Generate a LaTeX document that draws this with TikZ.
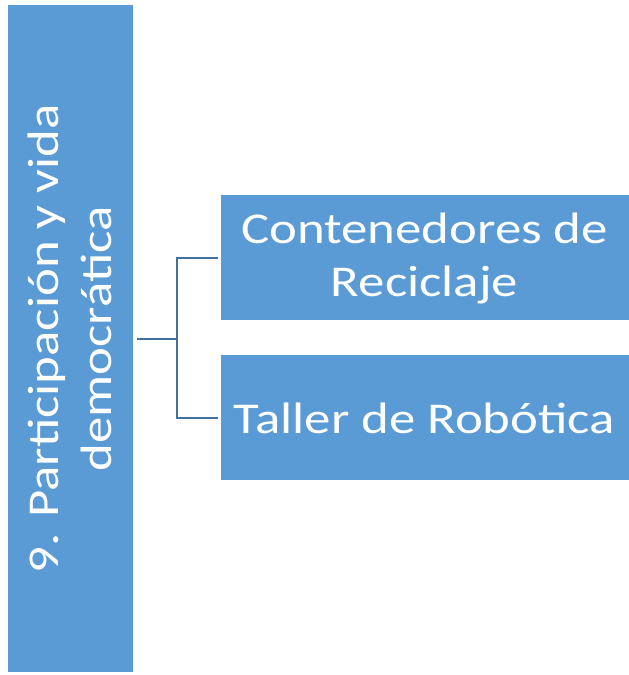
\documentclass[tikz,border=0pt]{standalone}
\usepackage{fontspec}
\setmainfont{Carlito}[FakeStretch=1.2]
\definecolor{boxblue}{HTML}{5B9BD5}
\definecolor{lineblue}{HTML}{41719C}
\tikzset{
	card/.style={fill=boxblue, draw=white, line width=1pt, text=white, align=center,
		font=\fontsize{44}{53}\selectfont, inner sep=0pt},
	link/.style={lineblue, line width=1.3pt}
}
\begin{document}
\begin{tikzpicture}[x=1pt, y=1pt]
	\useasboundingbox (0, 0) rectangle (629, 675);

	\node[card, rotate=90, minimum width=668, minimum height=126] (area) at (70, 336)
		{9. Participación y vida\\democrática};

	\node[card, minimum width=409, minimum height=126] (recycle) at (424.5, 417)
		{Contenedores de\\Reciclaje};
	\node[card, minimum width=409, minimum height=126] (robot) at (424.5, 257)
		{Taller de Robótica};

	\coordinate (fork) at (177, 336);
	\draw[link] ([xshift=3pt]area.south) -- (fork) |- ([xshift=-2pt]recycle.west);
	\draw[link] (fork) |- ([xshift=-2pt]robot.west);
\end{tikzpicture}
\end{document}
